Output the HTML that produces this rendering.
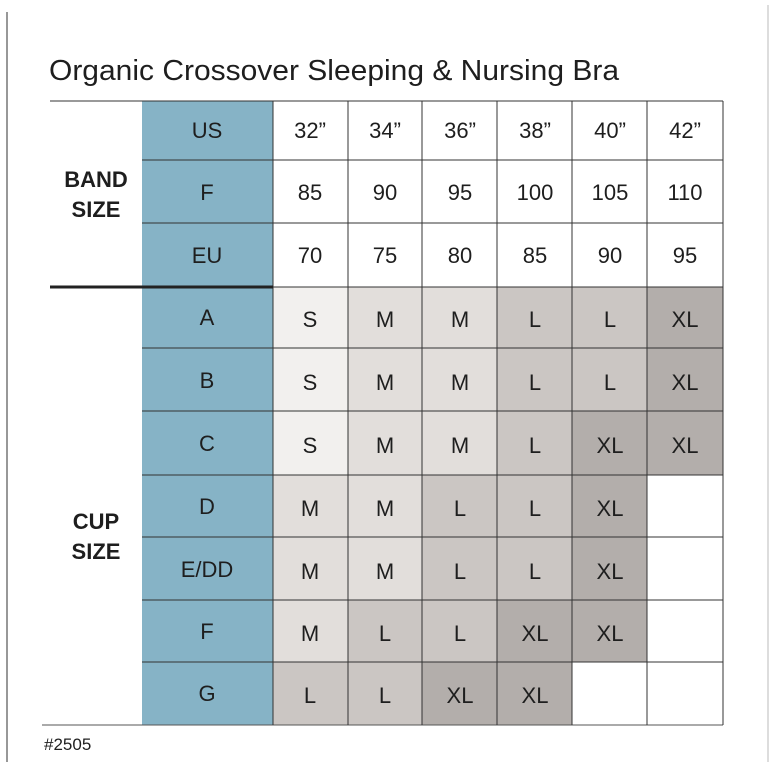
<!DOCTYPE html>
<html><head><meta charset="utf-8"><style>
html,body{margin:0;padding:0;background:#fff;}
svg{display:block;}
text{font-family:"Liberation Sans",sans-serif;fill:#1e1e1e;}
</style></head><body>
<svg width="775" height="775" viewBox="0 0 775 775" xmlns="http://www.w3.org/2000/svg">
<line x1="7" y1="12" x2="7" y2="762" stroke="#777" stroke-width="1.5"/>
<line x1="768" y1="5" x2="768" y2="762" stroke="#bbb" stroke-width="1"/>
<text x="49" y="80" font-size="29" textLength="570" lengthAdjust="spacingAndGlyphs">Organic Crossover Sleeping &amp; Nursing Bra</text>
<rect x="142" y="101" width="131" height="624" fill="#86b3c6"/>
<g id="cells"></g>
<g fill="none">
<rect x="273" y="287" width="75" height="188" fill="#f2f0ee"/>
<rect x="273" y="475" width="75" height="187" fill="#e2dedb"/>
<rect x="273" y="662" width="75" height="63" fill="#cbc6c3"/>
<rect x="348" y="287" width="74" height="313" fill="#e2dedb"/>
<rect x="348" y="600" width="74" height="125" fill="#cbc6c3"/>
<rect x="422" y="287" width="75" height="188" fill="#e2dedb"/>
<rect x="422" y="475" width="75" height="187" fill="#cbc6c3"/>
<rect x="422" y="662" width="75" height="63" fill="#b3aeab"/>
<rect x="497" y="287" width="75" height="313" fill="#cbc6c3"/>
<rect x="497" y="600" width="75" height="125" fill="#b3aeab"/>
<rect x="572" y="287" width="75" height="124" fill="#cbc6c3"/>
<rect x="572" y="411" width="75" height="251" fill="#b3aeab"/>
<rect x="647" y="287" width="76" height="188" fill="#b3aeab"/>
</g>
<g stroke="#333" stroke-width="1">
<line x1="50" y1="101" x2="723" y2="101"/>
<line x1="142" y1="160" x2="723" y2="160"/>
<line x1="142" y1="223" x2="723" y2="223"/>
<line x1="273" y1="287" x2="723" y2="287"/>
<line x1="142" y1="348" x2="723" y2="348"/>
<line x1="142" y1="411" x2="723" y2="411"/>
<line x1="142" y1="475" x2="723" y2="475"/>
<line x1="142" y1="537" x2="723" y2="537"/>
<line x1="142" y1="600" x2="723" y2="600"/>
<line x1="142" y1="662" x2="723" y2="662"/>
<line x1="42" y1="725" x2="723" y2="725" stroke="#555"/>
<line x1="273" y1="101" x2="273" y2="725"/>
<line x1="348" y1="101" x2="348" y2="725"/>
<line x1="422" y1="101" x2="422" y2="725"/>
<line x1="497" y1="101" x2="497" y2="725"/>
<line x1="572" y1="101" x2="572" y2="725"/>
<line x1="647" y1="101" x2="647" y2="725"/>
<line x1="723" y1="101" x2="723" y2="725"/>
</g>
<line x1="50" y1="287" x2="273" y2="287" stroke="#222" stroke-width="3"/>
<g font-size="22" text-anchor="middle">
<text x="207" y="138">US</text><text x="207" y="200">F</text><text x="207" y="263">EU</text>
<text x="207" y="325">A</text><text x="207" y="388">B</text><text x="207" y="451">C</text>
<text x="207" y="514">D</text><text x="207" y="577">E/DD</text><text x="207" y="639">F</text><text x="207" y="701">G</text>
<text x="310" y="138">32”</text><text x="385" y="138">34”</text><text x="460" y="138">36”</text><text x="535" y="138">38”</text><text x="610" y="138">40”</text><text x="685" y="138">42”</text>
<text x="310" y="200">85</text><text x="385" y="200">90</text><text x="460" y="200">95</text><text x="535" y="200">100</text><text x="610" y="200">105</text><text x="685" y="200">110</text>
<text x="310" y="263">70</text><text x="385" y="263">75</text><text x="460" y="263">80</text><text x="535" y="263">85</text><text x="610" y="263">90</text><text x="685" y="263">95</text>
<text x="310" y="327">S</text><text x="385" y="327">M</text><text x="460" y="327">M</text><text x="535" y="327">L</text><text x="610" y="327">L</text><text x="685" y="327">XL</text>
<text x="310" y="390">S</text><text x="385" y="390">M</text><text x="460" y="390">M</text><text x="535" y="390">L</text><text x="610" y="390">L</text><text x="685" y="390">XL</text>
<text x="310" y="453">S</text><text x="385" y="453">M</text><text x="460" y="453">M</text><text x="535" y="453">L</text><text x="610" y="453">XL</text><text x="685" y="453">XL</text>
<text x="310" y="516">M</text><text x="385" y="516">M</text><text x="460" y="516">L</text><text x="535" y="516">L</text><text x="610" y="516">XL</text>
<text x="310" y="579">M</text><text x="385" y="579">M</text><text x="460" y="579">L</text><text x="535" y="579">L</text><text x="610" y="579">XL</text>
<text x="310" y="641">M</text><text x="385" y="641">L</text><text x="460" y="641">L</text><text x="535" y="641">XL</text><text x="610" y="641">XL</text>
<text x="310" y="703">L</text><text x="385" y="703">L</text><text x="460" y="703">XL</text><text x="535" y="703">XL</text>
</g>
<g font-size="22" font-weight="bold" text-anchor="middle">
<text x="96" y="187">BAND</text><text x="96" y="217">SIZE</text>
<text x="96" y="529">CUP</text><text x="96" y="559">SIZE</text>
</g>
<text x="44" y="750" font-size="17">#2505</text>
</svg>
</body></html>
